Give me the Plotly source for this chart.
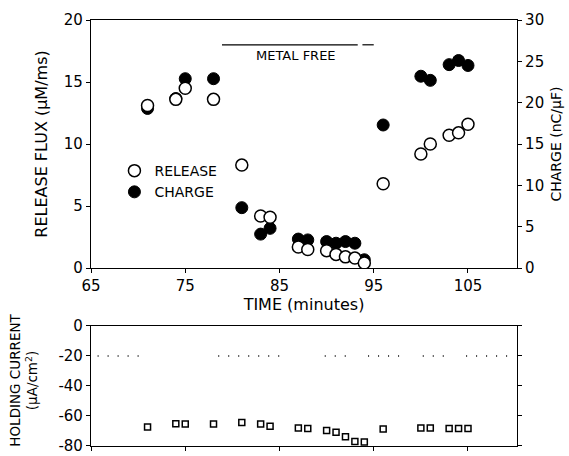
import plotly.graph_objects as go

# ---- data ----
time_min = [71, 74, 75, 78, 81, 83, 84, 87, 88, 90, 91, 92, 93, 94, 96, 100, 101, 103, 104, 105]
release_flux = [13.1, 13.6, 14.5, 13.6, 8.3, 4.2, 4.1, 1.7, 1.5, 1.4, 1.1, 0.9, 0.8, 0.4, 6.8, 9.2, 10.0, 10.7, 10.9, 11.6]
charge = [19.3, 20.5, 22.9, 22.9, 7.3, 4.1, 4.8, 3.5, 3.4, 3.2, 3.0, 3.2, 3.0, 1.0, 17.3, 23.2, 22.7, 24.6, 25.1, 24.5]
holding_current = [-67.3, -65.1, -65.3, -65.3, -64.3, -65.3, -66.9, -68.0, -68.4, -69.7, -70.8, -73.9,
                   -77.0, -77.4, -68.6, -68.0, -68.0, -68.4, -68.4, -68.4]

# dotted reference level in the holding-current panel (drawn in broken segments)
ref_level = -20
ref_segments = [(65.7, 70.7), (78.5, 85.9), (89.8, 92.2), (94.4, 97.9), (100.2, 103.3), (104.8, 109.9)]

# metal-free period bar
metal_free_start, metal_free_end = 78.9, 93.3
metal_free_tail = (93.8, 95.0)
metal_free_level = 18.0

x_ticks = [65, 75, 85, 95, 105]
flux_ticks = [0, 5, 10, 15, 20]
charge_ticks = [0, 5, 10, 15, 20, 25, 30]
hc_ticks = [0, -20, -40, -60, -80]
hc_ticklabels = ["0", "-20", "-40", "-60", "-80"]

FONT = "DejaVu Sans"
BLACK = "#000000"

fig = go.Figure()

# charge (filled circles) on main y (right side)
fig.add_trace(go.Scatter(
    x=time_min, y=charge, mode="markers", name="CHARGE", xaxis="x", yaxis="y",
    marker=dict(symbol="circle", size=12, color=BLACK, line=dict(color=BLACK, width=1)),
    legendrank=2,
))
# release (open circles) on overlaying y2 (left side)
fig.add_trace(go.Scatter(
    x=time_min, y=release_flux, mode="markers", name="RELEASE", xaxis="x", yaxis="y2",
    marker=dict(symbol="circle", size=12, color="white", line=dict(color=BLACK, width=1.5)),
    legendrank=1,
))

# dotted reference line in bottom panel
rx, ry = [], []
for a, b in ref_segments:
    rx += [a, b, None]
    ry += [ref_level, ref_level, None]
fig.add_trace(go.Scatter(
    x=rx, y=ry, mode="lines", xaxis="x2", yaxis="y3", showlegend=False,
    line=dict(color=BLACK, width=1.5, dash="1px,9px"), hoverinfo="skip",
))
# holding current
fig.add_trace(go.Scatter(
    x=time_min, y=holding_current, mode="markers", xaxis="x2", yaxis="y3", showlegend=False,
    marker=dict(symbol="square-open", size=6, color=BLACK, line=dict(color=BLACK, width=1.5)),
))

axis_common = dict(showline=True, linecolor=BLACK, linewidth=1.2, ticks="outside", ticklen=4,
                   tickcolor=BLACK, showgrid=False, zeroline=False, automargin=False,
                   tickfont=dict(family=FONT, size=15, color=BLACK))

top_dom = [0.4178, 1.0]
bot_dom = [0.0, 0.2817]

fig.update_layout(
    width=569, height=456,
    margin=dict(l=91, r=52, t=20, b=10),
    paper_bgcolor="white", plot_bgcolor="white",
    font=dict(family=FONT, color=BLACK),
    showlegend=True,
    legend=dict(x=0.055, y=0.683, xanchor="left", yanchor="top", bgcolor="rgba(0,0,0,0)",
                font=dict(family=FONT, size=14, color=BLACK), itemwidth=30, tracegroupgap=0),
    xaxis=dict(axis_common, domain=[0, 1], range=[65, 110.2], anchor="y", tickvals=x_ticks,
               mirror=True,
               title=dict(text="TIME (minutes)", font=dict(family=FONT, size=16, color=BLACK), standoff=2)),
    yaxis=dict(axis_common, domain=top_dom, range=[0, 30], anchor="x", side="right",
               tickvals=charge_ticks,
               title=dict(text="CHARGE (nC/µF)", font=dict(family=FONT, size=14, color=BLACK), standoff=8)),
    yaxis2=dict(axis_common, range=[0, 20], overlaying="y", anchor="x", side="left",
                tickvals=flux_ticks,
                title=dict(text="RELEASE FLUX (µM/ms)", font=dict(family=FONT, size=16, color=BLACK), standoff=12)),
    xaxis2=dict(axis_common, domain=[0, 1], range=[65, 110.2], anchor="y3", tickvals=x_ticks,
                showticklabels=False, mirror=True),
    yaxis3=dict(axis_common, domain=bot_dom, range=[-80, 0], anchor="x2", tickvals=hc_ticks,
                ticktext=hc_ticklabels, mirror="ticks"),
)

# bottom-panel y title
fig.add_annotation(xref="paper", yref="paper", x=-0.158, y=0.155, xanchor="center", yanchor="middle",
                   text="HOLDING CURRENT<br>(µA/cm<sup>2</sup>)", textangle=-90, showarrow=False,
                   font=dict(family=FONT, size=13.5, color=BLACK))

# metal-free bar and label
fig.add_shape(type="line", xref="x", yref="y2", x0=metal_free_start, x1=metal_free_end,
              y0=metal_free_level, y1=metal_free_level, line=dict(color=BLACK, width=1.2))
fig.add_shape(type="line", xref="x", yref="y2", x0=metal_free_tail[0], x1=metal_free_tail[1],
              y0=metal_free_level, y1=metal_free_level, line=dict(color=BLACK, width=1.2))
fig.add_annotation(x=(metal_free_start + metal_free_end) / 2 + 0.6, y=metal_free_level - 0.9,
                   xref="x", yref="y2", text="METAL FREE", showarrow=False,
                   font=dict(family=FONT, size=13, color=BLACK))

fig.write_html("out.html")
